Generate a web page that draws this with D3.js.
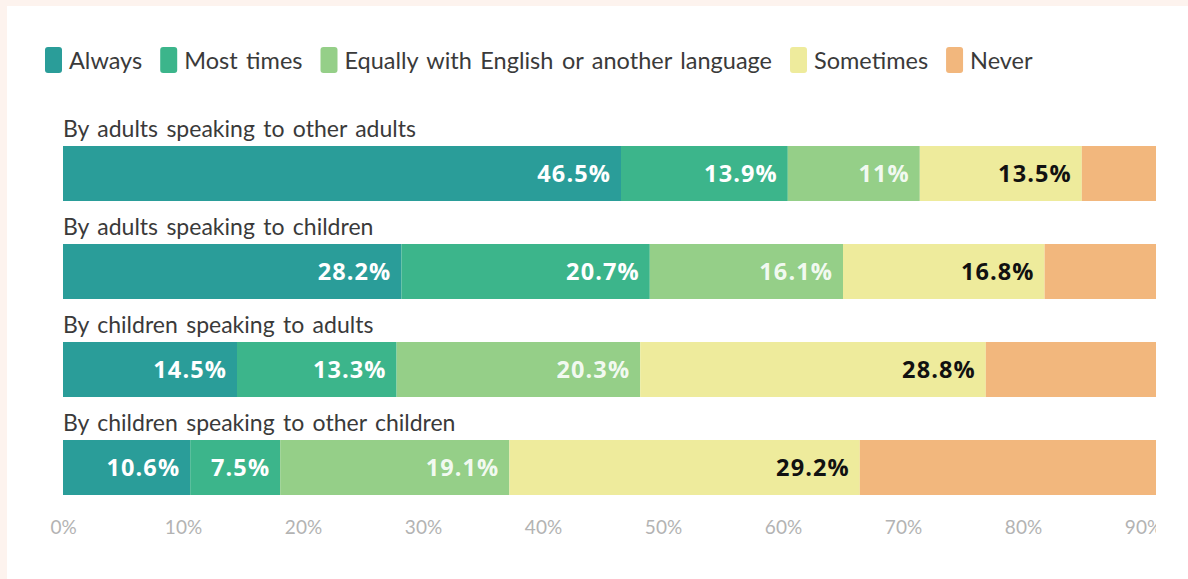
<!DOCTYPE html>
<html>
<head>
<meta charset="utf-8">
<script src="https://cdn.jsdelivr.net/npm/d3@7"></script>
<style>
  html, body { margin: 0; padding: 0; background: #fdf3ee; }
  svg { display: block; }
</style>
</head>
<body>
<svg id="chart" width="1188" height="579"></svg>
<script>
// Language-use categories (legend order = stack order)
const categories = ["Always", "Most times", "Equally with English or another language", "Sometimes", "Never"];
const colors = ["#2a9d99", "#3cb58b", "#95cf88", "#eeeb9c", "#f2b77d"];
const labelColors = ["#ffffff", "#ffffff", "#ffffff", "#111111", "#111111"];

// Speaker / listener groups
const groups = [
  "By adults speaking to other adults",
  "By adults speaking to children",
  "By children speaking to adults",
  "By children speaking to other children"
];

// Share (%) per group for each category
const always    = [46.5, 28.2, 14.5, 10.6];
const mostTimes = [13.9, 20.7, 13.3, 7.5];
const equally   = [11.0, 16.1, 20.3, 19.1];
const sometimes = [13.5, 16.8, 28.8, 29.2];
const never     = [15.1, 18.2, 23.1, 33.6];

// Value labels as printed on the bars
const valueLabels = [
  ["46.5%", "13.9%", "11%", "13.5%", ""],
  ["28.2%", "20.7%", "16.1%", "16.8%", ""],
  ["14.5%", "13.3%", "20.3%", "28.8%", ""],
  ["10.6%", "7.5%", "19.1%", "29.2%", ""]
];

const tickValues = [0, 10, 20, 30, 40, 50, 60, 70, 80, 90];

const series = [always, mostTimes, equally, sometimes, never];
const rows = groups.map((g, i) => {
  const r = { group: g, idx: i };
  categories.forEach((c, k) => r[c] = series[k][i]);
  return r;
});

const svg = d3.select("#chart");
const W = 1188, H = 579;

// white card
svg.append("rect").attr("x", 7).attr("y", 6).attr("width", W - 7).attr("height", H - 6).attr("fill", "#ffffff");

const fontReg = "Lato, 'Open Sans', sans-serif";
const x = d3.scaleLinear().domain([0, 100]).range([63, 1263]);
const rowTop = d3.scaleBand().domain(d3.range(groups.length)).range([146, 146 + 98 * groups.length]).paddingInner(0).paddingOuter(0);
const barH = 55;

svg.append("defs").append("clipPath").attr("id", "plotClip")
  .append("rect").attr("x", 0).attr("y", 0).attr("width", 1156).attr("height", H);

// Legend
const legend = svg.append("g").attr("class", "legend");
let lx = 45;
categories.forEach((c, k) => {
  legend.append("rect").attr("x", lx).attr("y", 47).attr("width", 17).attr("height", 26)
    .attr("rx", 3).attr("fill", colors[k]);
  const t = legend.append("text").attr("x", lx + 24).attr("y", 69)
    .attr("font-family", fontReg).attr("font-size", 23.5).attr("word-spacing", 2.5)
    .attr("fill", "#3a3a3a").text(c);
  lx += 24 + t.node().getComputedTextLength() + 18;
});

const plot = svg.append("g").attr("clip-path", "url(#plotClip)");

// Row titles
plot.selectAll("text.group").data(rows).join("text")
  .attr("class", "group")
  .attr("x", 63)
  .attr("y", d => rowTop(d.idx) - 9)
  .attr("font-family", fontReg).attr("font-size", 23).attr("word-spacing", 2.5)
  .attr("fill", "#3a3a3a")
  .text(d => d.group);

// Stacked bars
const stacked = d3.stack().keys(categories)(rows);
const layers = plot.selectAll("g.layer").data(stacked).join("g")
  .attr("class", "layer").attr("fill", (d, k) => colors[k]);

layers.selectAll("rect").data(d => d).join("rect")
  .attr("x", d => x(d[0]))
  .attr("y", d => rowTop(d.data.idx))
  .attr("width", d => x(d[1]) - x(d[0]))
  .attr("height", barH);

// Value labels, right-aligned inside each segment
stacked.forEach((layer, k) => {
  plot.selectAll("text.val" + k).data(layer).join("text")
    .attr("class", "val" + k)
    .attr("x", d => x(d[1]) - 10)
    .attr("y", d => rowTop(d.data.idx) + 36)
    .attr("text-anchor", "end")
    .attr("font-family", "'Open Sans', Lato, sans-serif")
    .attr("font-weight", 700)
    .attr("font-size", 23.5)
    .attr("letter-spacing", 1.1)
    .attr("fill", labelColors[k])
    .attr("fill-opacity", k === 2 ? 0.9 : 1)
    .text(d => valueLabels[d.data.idx][k]);
});

// X axis
const axis = d3.axisBottom(x).tickValues(tickValues).tickFormat(d => d + "%").tickSize(0).tickPadding(0);
const ag = plot.append("g").attr("transform", "translate(0,520)").call(axis);
ag.select(".domain").remove();
ag.selectAll("text")
  .attr("dy", "0.71em")
  .attr("font-family", fontReg).attr("font-size", 19).attr("fill", "#b3b3b3");
</script>
</body>
</html>
